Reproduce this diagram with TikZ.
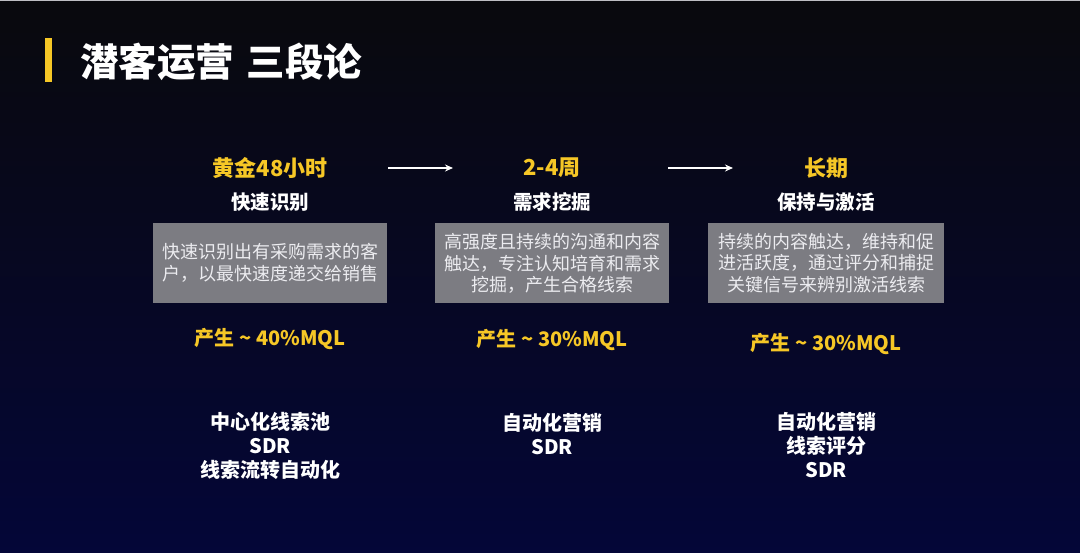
\documentclass[tikz,border=0pt]{standalone}
\usepackage{fontspec}
\setmainfont{Noto Sans CJK SC}
\usetikzlibrary{arrows.meta}

\definecolor{gold}{RGB}{246,199,38}
\definecolor{boxgray}{RGB}{124,124,130}
\definecolor{boxtext}{RGB}{236,236,240}
\definecolor{bgtop}{RGB}{9,9,13}
\definecolor{bgmid}{RGB}{8,9,34}
\definecolor{bgbot}{RGB}{4,6,56}
\definecolor{rimgray}{RGB}{190,190,195}

\tikzset{
  phase/.style={text=gold, font=\bfseries\fontsize{22}{25}\selectfont, inner sep=0pt},
  stage/.style={text=white, font=\bfseries\fontsize{19.5}{23}\selectfont, inner sep=0pt},
  descbox/.style={fill=boxgray, text=boxtext, minimum width=234pt, minimum height=80pt,
    inner sep=0pt, align=center, font=\fontsize{18}{21.5}\selectfont},
  yield/.style={text=gold, font=\bfseries\fontsize{20}{24}\selectfont, inner sep=0pt},
  tools/.style={text=white, align=center, font=\bfseries\fontsize{20}{24.3}\selectfont, inner sep=0pt},
  flow/.style={white, line width=1.5pt, -{Stealth[length=8pt, width=7pt]}}
}

\begin{document}
\begin{tikzpicture}[x=1pt, y=-1pt]

\useasboundingbox (0,0) rectangle (1080,553);

% background
\shade[top color=bgtop, middle color=bgmid, bottom color=bgbot] (0,0) rectangle (1080,553);
\fill[rimgray] (0,0) rectangle (1080,1.5);

% title
\fill[gold] (45,38) rectangle (52,82);
\node[anchor=west, text=white, inner sep=0pt, font=\bfseries\fontsize{38.5}{42}\selectfont] (title) at (80,62) {潜客运营\hspace{4pt} 三段论};

% column 1
\node[phase] (h1) at (270,168) {黄金48小时};
\node[stage] (s1) at (270,202) {快速识别};
\node[descbox] (d1) at (270,263) {快速识别出有采购需求的客\\户，以最快速度递交给销售};
\node[yield] (y1) at (270,339) {产生 \textasciitilde\ 40\%MQL};
\node[tools] (t1) at (270,446) {中心化线索池\\SDR\\线索流转自动化};

% column 2
\node[phase] (h2) at (552,168) {2-4周};
\node[stage] (s2) at (552,202) {需求挖掘};
\node[descbox] (d2) at (552,263.5) {高强度且持续的沟通和内容\\触达，专注认知培育和需求\\挖掘，产生合格线索};
\node[yield] (y2) at (552,340) {产生 \textasciitilde\ 30\%MQL};
\node[tools] (t2) at (552,434) {自动化营销\\SDR};

% column 3
\node[phase] (h3) at (826,168) {长期};
\node[stage] (s3) at (826,202) {保持与激活};
\node[descbox, minimum width=236pt] (d3) at (826,263) {持续的内容触达，维持和促\\进活跃度，通过评分和捕捉\\关键信号来辨别激活线索};
\node[yield] (y3) at (826,344) {产生 \textasciitilde\ 30\%MQL};
\node[tools] (t3) at (826,445) {自动化营销\\线索评分\\SDR};

% arrows
\coordinate (a1s) at (388,168);
\coordinate (a1e) at (453,168);
\coordinate (a2s) at (668,168);
\coordinate (a2e) at (733,168);
\draw[flow] (a1s) -- (a1e);
\draw[flow] (a2s) -- (a2e);

\end{tikzpicture}
\end{document}
